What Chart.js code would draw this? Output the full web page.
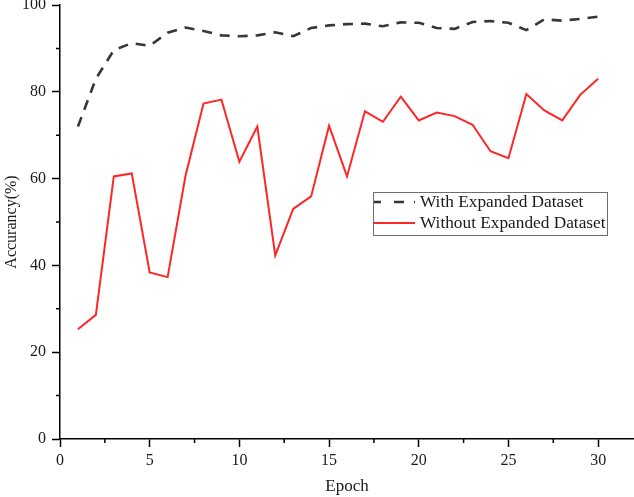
<!DOCTYPE html>
<html>
<head>
<meta charset="utf-8">
<script src="https://cdn.jsdelivr.net/npm/chart.js@4.4.1/dist/chart.umd.min.js"></script>
<style>
  html, body { margin: 0; padding: 0; background: #fff; }
  #wrap { width: 634px; height: 497px; }
</style>
</head>
<body>
<div id="wrap"><canvas id="accChart"></canvas></div>
<script>
// epochs on the x axis
var epochs = [1, 2, 3, 4, 5, 6, 7, 8, 9, 10,
  11, 12, 13, 14, 15, 16, 17, 18, 19, 20,
  21, 22, 23, 24, 25, 26, 27, 28, 29, 30];

// accuracy (%)
var withExpanded = [72.0, 83.0, 89.6, 91.2, 90.6, 93.6, 94.8, 94.0, 93.0, 92.8,
  93.0, 93.7, 92.8, 94.7, 95.3, 95.6, 95.7, 95.1, 96.0, 95.9,
  94.7, 94.5, 96.1, 96.3, 95.9, 94.2, 96.7, 96.4, 96.8, 97.3];

var withoutExpanded = [25.3, 28.6, 60.5, 61.2, 38.4, 37.3, 60.7, 77.3, 78.2, 63.9,
  72.0, 42.3, 53.0, 55.9, 72.2, 60.5, 75.5, 73.1, 78.9, 73.4,
  75.2, 74.4, 72.4, 66.3, 64.7, 79.5, 75.7, 73.4, 79.3, 83.0];

var seriesNames = ['With Expanded Dataset', 'Without Expanded Dataset'];

var xTicks = [0, 5, 10, 15, 20, 25, 30];
var xMinorTicks = [2.5, 7.5, 12.5, 17.5, 22.5, 27.5];
var yTicks = [0, 20, 40, 60, 80, 100];
var yMinorTicks = [10, 30, 50, 70, 90];

var serif = "'Liberation Serif', 'Times New Roman', serif";
var textColor = '#1a1a1a';
var dashColor = 'rgb(55, 55, 55)';
var redColor = 'rgb(255, 38, 38)';

function toPoints(values) {
  return epochs.map(function (e, i) { return { x: e, y: values[i] }; });
}

// minor tick marks (short, pointing outwards)
var minorTicks = {
  id: 'minorTicks',
  afterDraw: function (chart) {
    var ctx = chart.ctx;
    var xs = chart.scales.x, ys = chart.scales.y;
    var area = chart.chartArea;
    ctx.save();
    ctx.strokeStyle = '#000';
    ctx.lineWidth = 1.5;
    ctx.beginPath();
    xMinorTicks.forEach(function (v) {
      var px = xs.getPixelForValue(v);
      ctx.moveTo(px, area.bottom);
      ctx.lineTo(px, area.bottom + 4);
    });
    yMinorTicks.forEach(function (v) {
      var py = ys.getPixelForValue(v);
      ctx.moveTo(area.left, py);
      ctx.lineTo(area.left - 4, py);
    });
    ctx.stroke();
    ctx.restore();
  }
};

// boxed legend sitting inside the plot
var boxLegend = {
  id: 'boxLegend',
  afterDraw: function (chart) {
    var ctx = chart.ctx;
    var bx = 373, by = 192, bw = 234, bh = 43;
    ctx.save();
    ctx.fillStyle = '#fff';
    ctx.fillRect(bx, by, bw, bh);
    ctx.strokeStyle = 'rgb(110, 110, 110)';
    ctx.lineWidth = 1;
    ctx.strokeRect(bx + 0.5, by + 0.5, bw, bh);

    var rows = [by + 10, by + 31];
    ctx.lineWidth = 2.4;
    ctx.strokeStyle = dashColor;
    ctx.setLineDash([7, 13, 10, 10, 1.5, 30]);
    ctx.beginPath();
    ctx.moveTo(bx + 1, rows[0]);
    ctx.lineTo(bx + 42, rows[0]);
    ctx.stroke();

    ctx.setLineDash([]);
    ctx.strokeStyle = redColor;
    ctx.lineWidth = 2;
    ctx.beginPath();
    ctx.moveTo(bx + 1, rows[1]);
    ctx.lineTo(bx + 42, rows[1]);
    ctx.stroke();

    ctx.fillStyle = textColor;
    ctx.font = '17.3px ' + serif;
    ctx.textBaseline = 'middle';
    ctx.textAlign = 'left';
    ctx.fillText(seriesNames[0], bx + 47, rows[0]);
    ctx.fillText(seriesNames[1], bx + 47, rows[1]);
    ctx.restore();
  }
};

var ctx = document.getElementById('accChart').getContext('2d');
var chart = new Chart(ctx, {
  type: 'line',
  data: {
    datasets: [
      {
        label: seriesNames[0],
        data: toPoints(withExpanded),
        borderColor: dashColor,
        borderWidth: 2.6,
        borderDash: [10, 8],
        pointRadius: 0,
        fill: false,
        tension: 0
      },
      {
        label: seriesNames[1],
        data: toPoints(withoutExpanded),
        borderColor: redColor,
        borderWidth: 2,
        pointRadius: 0,
        fill: false,
        tension: 0
      }
    ]
  },
  options: {
    responsive: true,
    maintainAspectRatio: false,
    animation: false,
    layout: { padding: { top: 5, right: 0, left: 0, bottom: 0 } },
    plugins: {
      legend: { display: false },
      tooltip: { enabled: false }
    },
    scales: {
      x: {
        type: 'linear',
        min: 0,
        max: 32,
        grid: { drawOnChartArea: false, tickLength: 8, tickColor: '#000', tickWidth: 1.5 },
        border: { color: '#000', width: 1.5 },
        afterBuildTicks: function (scale) {
          scale.ticks = xTicks.map(function (v) { return { value: v }; });
        },
        afterFit: function (scale) {
          scale.height = 58;
          scale.paddingLeft = 0;
          scale.paddingRight = 0;
        },
        ticks: {
          padding: 4,
          color: textColor,
          maxRotation: 0,
          font: { family: serif, size: 16 }
        },
        title: {
          display: true,
          text: 'Epoch',
          color: textColor,
          padding: { top: 0, bottom: 0 },
          font: { family: serif, size: 17 }
        }
      },
      y: {
        min: 0,
        max: 100,
        grid: { drawOnChartArea: false, tickLength: 8, tickColor: '#000', tickWidth: 1.5 },
        border: { color: '#000', width: 1.5 },
        afterBuildTicks: function (scale) {
          scale.ticks = yTicks.map(function (v) { return { value: v }; });
        },
        afterFit: function (scale) {
          scale.width = 60;
          scale.paddingTop = 0;
          scale.paddingBottom = 0;
        },
        ticks: {
          padding: 6,
          color: textColor,
          font: { family: serif, size: 16 }
        },
        title: {
          display: true,
          text: 'Accurancy(%)',
          color: textColor,
          padding: { top: 2, bottom: 0 },
          font: { family: serif, size: 16 }
        }
      }
    }
  },
  plugins: [minorTicks, boxLegend]
});
</script>
</body>
</html>
